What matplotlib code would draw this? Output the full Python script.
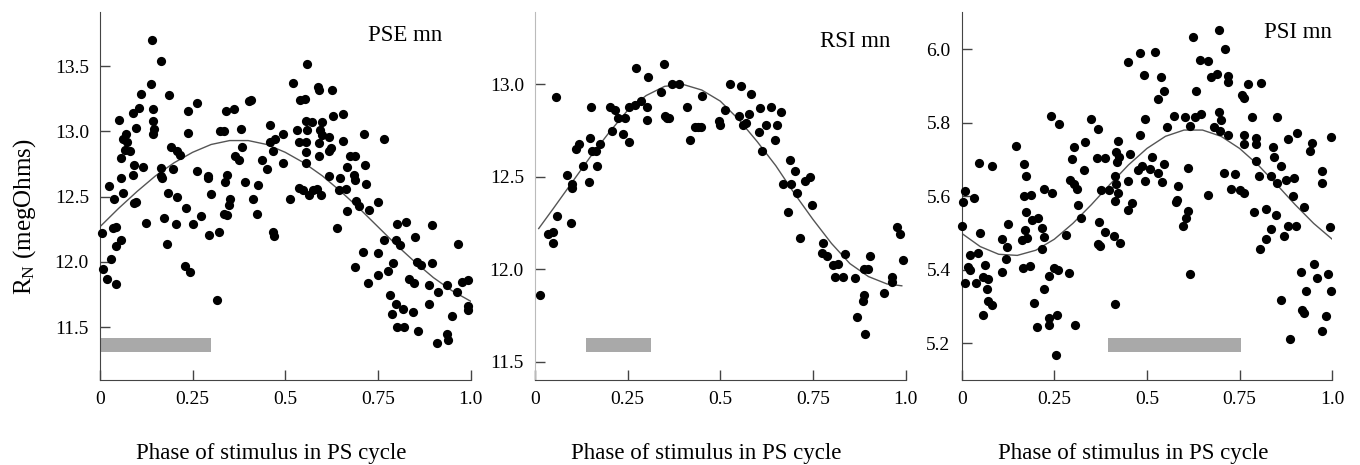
import numpy as np
import matplotlib
matplotlib.use("Agg")
import matplotlib.pyplot as plt

plt.rcParams['font.family'] = 'Liberation Serif'
plt.rcParams['mathtext.fontset'] = 'custom'
plt.rcParams['mathtext.rm'] = 'Liberation Serif'

# ---- data: (phase, R_N) ----
pse_points = [
    (0.139, 13.36), (0.110, 13.29), (0.187, 13.28), (0.106, 13.18), (0.090, 13.14), (0.144, 13.17),
    (0.052, 13.09), (0.144, 13.08), (0.147, 13.02), (0.144, 12.98), (0.097, 13.03), (0.070, 12.98),
    (0.063, 12.94), (0.074, 12.92), (0.067, 12.86), (0.081, 12.85), (0.056, 12.80), (0.092, 12.74),
    (0.117, 12.73), (0.088, 12.67), (0.056, 12.64), (0.025, 12.58), (0.061, 12.53), (0.038, 12.48),
    (0.097, 12.46), (0.092, 12.45), (0.043, 12.27), (0.036, 12.26), (0.005, 12.22), (0.058, 12.17),
    (0.043, 12.12), (0.030, 12.02), (0.007, 11.95), (0.018, 11.87), (0.043, 11.83), (0.124, 12.30),
    (0.191, 12.88), (0.209, 12.85), (0.216, 12.82), (0.164, 12.72), (0.164, 12.66), (0.198, 12.71),
    (0.166, 12.64), (0.184, 12.53), (0.209, 12.50), (0.232, 12.41), (0.173, 12.34), (0.205, 12.29),
    (0.182, 12.14), (0.230, 11.97), (0.243, 11.92), (0.238, 13.16), (0.263, 13.22), (0.238, 12.99),
    (0.261, 12.70), (0.292, 12.66), (0.292, 12.64), (0.299, 12.52), (0.250, 12.29), (0.272, 12.35),
    (0.295, 12.21), (0.322, 12.23), (0.315, 11.71), (0.324, 13.00), (0.335, 13.00), (0.340, 13.16),
    (0.362, 13.17), (0.380, 13.02), (0.382, 12.88), (0.364, 12.81), (0.376, 12.78), (0.342, 12.67),
    (0.337, 12.61), (0.391, 12.61), (0.427, 12.59), (0.351, 12.48), (0.349, 12.44), (0.414, 12.48),
    (0.335, 12.37), (0.342, 12.36), (0.425, 12.37), (0.403, 13.23), (0.407, 13.24), (0.459, 13.05),
    (0.472, 12.94), (0.459, 12.92), (0.466, 12.85), (0.436, 12.78), (0.451, 12.71), (0.466, 12.23),
    (0.470, 12.20),
    (0.522, 13.37), (0.589, 13.34), (0.592, 13.32), (0.626, 13.32), (0.540, 13.24), (0.553, 13.25),
    (0.628, 13.12), (0.657, 13.13), (0.556, 13.08), (0.571, 13.07), (0.598, 13.07), (0.533, 13.01),
    (0.560, 13.01), (0.594, 13.01), (0.598, 12.97), (0.493, 12.98), (0.538, 12.92), (0.556, 12.92),
    (0.592, 12.91), (0.619, 12.96), (0.655, 12.93), (0.713, 12.98), (0.767, 12.94), (0.623, 12.87),
    (0.617, 12.85), (0.556, 12.84), (0.592, 12.81), (0.495, 12.76), (0.556, 12.76), (0.675, 12.81),
    (0.689, 12.81), (0.668, 12.73), (0.715, 12.74), (0.686, 12.67), (0.689, 12.63), (0.718, 12.60),
    (0.619, 12.66), (0.648, 12.64), (0.664, 12.56), (0.646, 12.55), (0.538, 12.57), (0.547, 12.55),
    (0.576, 12.55), (0.585, 12.56), (0.565, 12.51), (0.596, 12.51), (0.513, 12.48), (0.691, 12.47),
    (0.700, 12.43), (0.727, 12.40), (0.749, 12.46), (0.666, 12.39), (0.641, 12.26), (0.801, 12.29),
    (0.826, 12.31), (0.896, 12.28), (0.767, 12.17), (0.799, 12.17), (0.810, 12.13), (0.850, 12.19),
    (0.967, 12.14), (0.709, 12.08), (0.751, 12.07), (0.790, 11.99), (0.688, 11.96), (0.855, 12.00),
    (0.866, 11.98), (0.896, 11.99), (0.776, 11.93), (0.751, 11.90), (0.724, 11.84), (0.835, 11.87),
    (0.848, 11.84), (0.889, 11.82), (0.913, 11.77), (0.936, 11.82), (0.963, 11.77), (0.976, 11.85),
    (0.994, 11.86), (0.783, 11.75), (0.992, 11.66), (0.994, 11.63), (0.799, 11.68), (0.819, 11.64),
    (0.844, 11.62), (0.788, 11.60), (0.887, 11.68), (0.950, 11.59),
    (0.801, 11.50), (0.821, 11.50), (0.857, 11.47), (0.909, 11.38), (0.936, 11.45), (0.938, 11.40),
    (0.140, 13.70), (0.165, 13.54), (0.560, 13.52),
]

rsi_points = [
    (0.013, 11.86), (0.036, 12.19), (0.048, 12.20), (0.049, 12.14), (0.060, 12.29), (0.096, 12.25),
    (0.087, 12.51), (0.099, 12.46), (0.099, 12.44), (0.147, 12.47), (0.058, 12.93), (0.129, 12.56),
    (0.166, 12.56), (0.112, 12.65), (0.120, 12.68), (0.148, 12.71), (0.153, 12.64), (0.164, 12.64),
    (0.175, 12.68), (0.150, 12.88), (0.207, 12.75), (0.202, 12.88), (0.216, 12.86), (0.225, 12.82),
    (0.238, 12.73), (0.254, 12.69), (0.243, 12.82), (0.254, 12.88), (0.270, 12.89), (0.285, 12.91),
    (0.272, 13.09), (0.306, 13.04), (0.303, 12.88), (0.301, 12.81), (0.339, 12.96), (0.349, 13.11),
    (0.371, 13.00), (0.389, 13.00), (0.350, 12.83), (0.355, 12.82), (0.362, 12.82), (0.411, 12.88),
    (0.452, 12.94), (0.418, 12.70), (0.431, 12.77), (0.440, 12.77), (0.449, 12.77), (0.497, 12.80),
    (0.499, 12.78),
    (0.527, 13.00), (0.557, 12.99), (0.584, 12.95), (0.512, 12.86), (0.551, 12.83), (0.578, 12.84),
    (0.562, 12.78), (0.569, 12.79), (0.608, 12.87), (0.638, 12.88), (0.665, 12.85), (0.623, 12.78),
    (0.653, 12.78), (0.604, 12.74), (0.647, 12.70), (0.614, 12.64), (0.687, 12.59), (0.701, 12.53),
    (0.728, 12.48), (0.743, 12.50), (0.670, 12.46), (0.691, 12.46), (0.707, 12.41), (0.748, 12.35),
    (0.683, 12.31), (0.714, 12.17), (0.777, 12.14), (0.775, 12.09), (0.788, 12.07), (0.836, 12.08),
    (0.903, 12.07), (0.804, 12.02), (0.817, 12.03), (0.809, 11.96), (0.831, 11.96), (0.863, 11.95),
    (0.889, 12.00), (0.898, 12.00), (0.887, 11.86), (0.885, 11.83), (0.869, 11.74), (0.943, 11.87),
    (0.964, 11.96), (0.964, 11.93), (0.976, 12.23), (0.985, 12.19), (0.994, 12.05), (0.892, 11.65),
]

psi_points = [
    (0.482, 5.989), (0.450, 5.966), (0.491, 5.930), (0.241, 5.817), (0.263, 5.797), (0.349, 5.809),
    (0.367, 5.782), (0.494, 5.809), (0.482, 5.767), (0.146, 5.737), (0.304, 5.733), (0.333, 5.748),
    (0.421, 5.751), (0.047, 5.690), (0.081, 5.683), (0.167, 5.689), (0.297, 5.701), (0.365, 5.704),
    (0.387, 5.704), (0.416, 5.719), (0.425, 5.706), (0.419, 5.692), (0.455, 5.716), (0.173, 5.655),
    (0.331, 5.672), (0.477, 5.670), (0.486, 5.681), (0.413, 5.655), (0.293, 5.644), (0.302, 5.633),
    (0.311, 5.619), (0.223, 5.619), (0.243, 5.608), (0.416, 5.633), (0.450, 5.642), (0.377, 5.617),
    (0.398, 5.616), (0.422, 5.608), (0.494, 5.642), (0.009, 5.613), (0.004, 5.583), (0.034, 5.595),
    (0.169, 5.600), (0.187, 5.604), (0.314, 5.577), (0.414, 5.586), (0.459, 5.581), (0.449, 5.563),
    (0.002, 5.519), (0.049, 5.499), (0.124, 5.525), (0.173, 5.558), (0.191, 5.534), (0.207, 5.540),
    (0.218, 5.513), (0.171, 5.508), (0.221, 5.488), (0.162, 5.481), (0.176, 5.486), (0.322, 5.540),
    (0.281, 5.494), (0.371, 5.531), (0.386, 5.502), (0.410, 5.491), (0.428, 5.473), (0.367, 5.471),
    (0.374, 5.464), (0.108, 5.483), (0.122, 5.461), (0.022, 5.440), (0.043, 5.445), (0.119, 5.429),
    (0.216, 5.456), (0.016, 5.408), (0.022, 5.399), (0.063, 5.413), (0.166, 5.404), (0.185, 5.410),
    (0.110, 5.395), (0.248, 5.406), (0.259, 5.399), (0.290, 5.392), (0.236, 5.384), (0.058, 5.380),
    (0.072, 5.375), (0.009, 5.365), (0.038, 5.365), (0.068, 5.347), (0.221, 5.347), (0.072, 5.316),
    (0.083, 5.305), (0.194, 5.310), (0.414, 5.308), (0.058, 5.277), (0.257, 5.277), (0.236, 5.268),
    (0.236, 5.250), (0.203, 5.243), (0.306, 5.250), (0.255, 5.168),
    (0.694, 6.051), (0.624, 6.033), (0.712, 6.000), (0.522, 5.993), (0.642, 5.971), (0.666, 5.969),
    (0.538, 5.924), (0.673, 5.924), (0.689, 5.933), (0.720, 5.927), (0.720, 5.912), (0.772, 5.906),
    (0.808, 5.908), (0.633, 5.887), (0.547, 5.885), (0.531, 5.865), (0.757, 5.876), (0.763, 5.867),
    (0.574, 5.818), (0.604, 5.816), (0.631, 5.815), (0.646, 5.824), (0.694, 5.830), (0.700, 5.808),
    (0.784, 5.815), (0.850, 5.816), (0.554, 5.788), (0.615, 5.791), (0.682, 5.789), (0.696, 5.778),
    (0.718, 5.767), (0.763, 5.767), (0.793, 5.758), (0.763, 5.743), (0.793, 5.743), (0.905, 5.773),
    (0.880, 5.755), (0.997, 5.760), (0.946, 5.746), (0.941, 5.724), (0.840, 5.733), (0.843, 5.708),
    (0.513, 5.706), (0.545, 5.688), (0.509, 5.673), (0.529, 5.664), (0.540, 5.640), (0.610, 5.677),
    (0.793, 5.695), (0.862, 5.682), (0.709, 5.663), (0.738, 5.660), (0.802, 5.656), (0.835, 5.656),
    (0.851, 5.637), (0.874, 5.643), (0.898, 5.650), (0.973, 5.668), (0.973, 5.637), (0.583, 5.628),
    (0.727, 5.619), (0.750, 5.617), (0.763, 5.608), (0.664, 5.604), (0.581, 5.590), (0.579, 5.583),
    (0.894, 5.601), (0.923, 5.570), (0.790, 5.556), (0.822, 5.565), (0.847, 5.550), (0.610, 5.559),
    (0.606, 5.541), (0.597, 5.520), (0.835, 5.511), (0.882, 5.520), (0.903, 5.520), (0.995, 5.517),
    (0.822, 5.484), (0.871, 5.492), (0.804, 5.456), (0.617, 5.389), (0.952, 5.416), (0.916, 5.395),
    (0.960, 5.377), (0.988, 5.389), (0.928, 5.343), (0.997, 5.341), (0.862, 5.318), (0.919, 5.291),
    (0.923, 5.282), (0.982, 5.273), (0.973, 5.234), (0.885, 5.212),
]

# fitted curves
curve_x = [0.0, 0.05, 0.10, 0.15, 0.20, 0.25, 0.30, 0.35, 0.40, 0.45, 0.50,
           0.55, 0.60, 0.65, 0.70, 0.75, 0.80, 0.85, 0.90, 0.95, 1.0]
pse_fit = [12.27, 12.41, 12.54, 12.66, 12.76, 12.84, 12.90, 12.93, 12.93, 12.90, 12.84,
           12.76, 12.66, 12.54, 12.41, 12.27, 12.13, 12.00, 11.88, 11.78, 11.70]
rsi_fit_x = [0.01, 0.05, 0.10, 0.15, 0.20, 0.25, 0.30, 0.35, 0.40, 0.45, 0.50,
             0.55, 0.60, 0.65, 0.70, 0.75, 0.80, 0.85, 0.90, 0.95, 0.99]
rsi_fit = [12.22, 12.33, 12.47, 12.61, 12.74, 12.86, 12.94, 12.99, 13.00, 12.97, 12.91,
           12.81, 12.69, 12.56, 12.41, 12.27, 12.14, 12.03, 11.96, 11.92, 11.91]
psi_fit = [5.499, 5.463, 5.442, 5.439, 5.453, 5.483, 5.526, 5.577, 5.632, 5.685, 5.730,
           5.763, 5.780, 5.780, 5.763, 5.730, 5.685, 5.632, 5.577, 5.526, 5.483]

# grey bars: (phase start, phase end, centre, thickness)
pse_bar = (0.0, 0.30, 11.365, 0.107)
rsi_bar = (0.137, 0.312, 11.59, 0.078)
psi_bar = (0.395, 0.754, 5.196, 0.038)

x_ticks = [0, 0.25, 0.5, 0.75, 1.0]
x_ticklabels = ['0', '0.25', '0.5', '0.75', '1.0']

panels = [
    dict(name='PSE mn', pts=pse_points, fx=curve_x, fy=pse_fit, bar=pse_bar,
         ylim=(11.096, 13.917), yticks=[11.5, 12.0, 12.5, 13.0, 13.5],
         left=100, title_x=0.925, title_y=0.935, lcol='#444444'),
    dict(name='RSI mn', pts=rsi_points, fx=rsi_fit_x, fy=rsi_fit, bar=rsi_bar,
         ylim=(11.40, 13.394), yticks=[11.5, 12.0, 12.5, 13.0],
         left=535, title_x=0.96, title_y=0.92, lcol='#bbbbbb'),
    dict(name='PSI mn', pts=psi_points, fx=curve_x, fy=psi_fit, bar=psi_bar,
         ylim=(5.10, 6.102), yticks=[5.2, 5.4, 5.6, 5.8, 6.0],
         left=961.7, title_x=1.0, title_y=0.943, lcol='#444444'),
]

W, H = 1360, 465
fig = plt.figure(figsize=(W / 100, H / 100), dpi=100)

for p in panels:
    ax = fig.add_axes([p['left'] / W, (H - 380) / H, 370.5 / W, (380 - 11.7) / H])
    x, y = np.array(p['pts']).T
    ax.plot(p['fx'], p['fy'], color='#555555', lw=1.0, zorder=2)
    ax.scatter(x, y, s=44, c='black', linewidths=0, zorder=3, clip_on=False)
    x0, x1, yc, h = p['bar']
    ax.barh(yc, x1 - x0, left=x0, height=h, color='#a9a9a9', zorder=1)

    ax.set_xlim(0, 1.0)
    ax.set_ylim(*p['ylim'])
    ax.set_xticks(x_ticks)
    ax.set_xticklabels(x_ticklabels)
    ax.set_yticks(p['yticks'])
    ax.set_yticklabels(['%.1f' % v for v in p['yticks']])
    ax.tick_params(direction='in', length=7, width=1, labelsize=14, pad=8, color='#444444')
    for s in ['top', 'right']:
        ax.spines[s].set_visible(False)
    ax.spines['left'].set_color(p['lcol'])
    ax.spines['bottom'].set_color('#444444')
    ax.set_xlabel('Phase of stimulus in PS cycle', fontsize=16.5)
    ax.xaxis.set_label_coords(0.463, -0.172)
    ax.text(p['title_x'], p['title_y'], p['name'], transform=ax.transAxes,
            ha='right', va='center', fontsize=16.5)

fig.text(25 / W, 1 - 217 / H, r'$\mathregular{R_N}$ (megOhms)', rotation=90,
         ha='center', va='center', fontsize=18)

fig.savefig('out.png', dpi=100)
